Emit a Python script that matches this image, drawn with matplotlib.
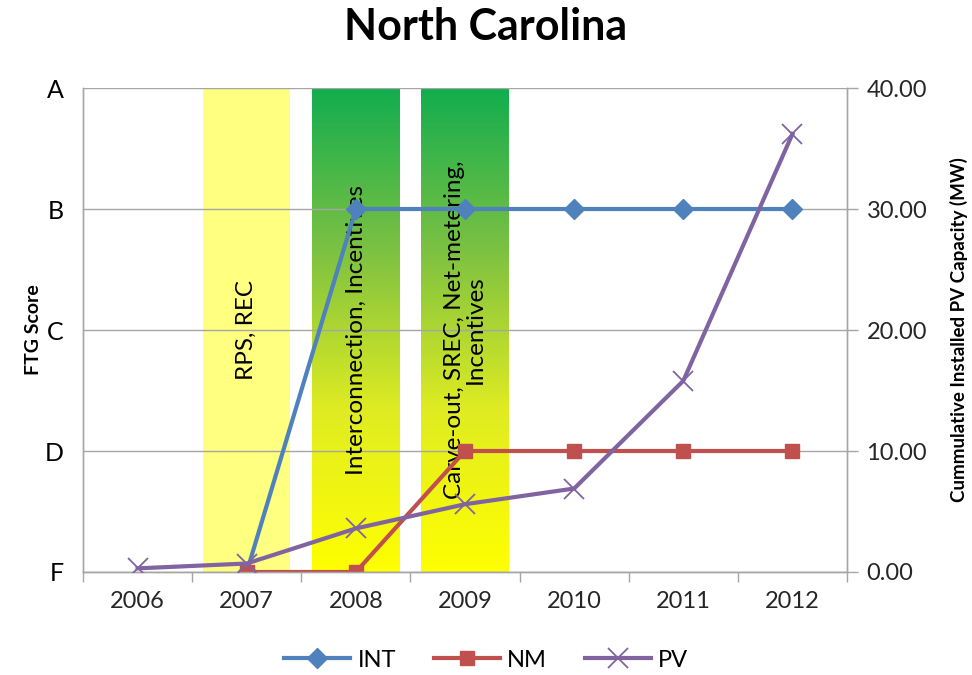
import numpy as np
import matplotlib
matplotlib.use("Agg")
import matplotlib.pyplot as plt
from matplotlib.colors import LinearSegmentedColormap

plt.rcParams["font.family"] = ["Lato", "DejaVu Sans"]

# ── Data ──────────────────────────────────────────────────────────────
years = ["2006", "2007", "2008", "2009", "2010", "2011", "2012"]
grade_labels = ["F", "D", "C", "B", "A"]
int_years = ["2007", "2008", "2009", "2010", "2011", "2012"]
int_scores = [0, 3, 3, 3, 3, 3]
nm_years = ["2007", "2008", "2009", "2010", "2011", "2012"]
nm_scores = [0, 0, 1, 1, 1, 1]
pv_mw = [0.3, 0.7, 3.6, 5.6, 6.9, 15.8, 36.2]

band_years = ["2007", "2008", "2009"]
band_labels = ["RPS, REC", "Interconnection, Incentives",
               "Carve-out, SREC, Net-metering,\nIncentives"]
band_styles = ["flat", "gradient", "gradient"]

C_INT = "#4f81bd"
C_NM = "#c0504d"
C_PV = "#8064a2"
GRID = "#a6a6a6"

fig = plt.figure(figsize=(9.72, 6.75), dpi=100)
ax = fig.add_axes([0.0854, 0.1526, 0.786, 0.717])
ax2 = ax.twinx()

x = np.arange(len(years))
pos = {y: i for i, y in enumerate(years)}

ax.set_xlim(-0.5, len(years) - 0.5)
ax.set_ylim(0, 4)
ax2.set_ylim(0, 40)

# ── Policy bands ──────────────────────────────────────────────────────
grad = LinearSegmentedColormap.from_list("gy", ["#ffff00", "#e0ec22", "#7cc142", "#12ad4f"])
for yr, lab, style in zip(band_years, band_labels, band_styles):
    i = pos[yr]
    if style == "flat":
        ax.axvspan(i - 0.4, i + 0.4, color="#ffff80", zorder=0, lw=0)
    else:
        ax.imshow(np.linspace(0, 1, 256).reshape(-1, 1), cmap=grad, origin="lower",
                  extent=(i - 0.4, i + 0.4, 0, 4), aspect="auto", zorder=0)
    ax.text(i, 2.0, lab, rotation=90, ha="center", va="center",
            fontsize=17.5, color="black", zorder=1.8, linespacing=1.0)

# ── Lines ─────────────────────────────────────────────────────────────
ax.plot([pos[y] for y in int_years], int_scores, color=C_INT, lw=3,
        marker="D", markersize=10, zorder=3, label="INT")
ax.plot([pos[y] for y in nm_years], nm_scores, color=C_NM, lw=3,
        marker="s", markersize=10, zorder=3, label="NM")
ax2.plot(x, pv_mw, color=C_PV, lw=3, marker="x", markersize=14,
         markeredgewidth=1.3, zorder=3, label="PV")

# ── Axes styling ──────────────────────────────────────────────────────
ax.set_yticks(range(5))
ax.set_yticklabels(grade_labels, fontsize=18)
ax.tick_params(axis="y", length=0, pad=14)
ax.yaxis.grid(True, color=GRID, lw=1)
ax.set_ylabel("FTG Score", fontsize=14, fontweight="bold", labelpad=2)

ax.set_xticks(x)
ax.set_xticklabels(years, fontsize=17, color="#262626")
ax.set_xticks(np.arange(-0.5, len(years) + 0.5, 1), minor=True)
ax.tick_params(axis="x", which="major", length=0, pad=14)
ax.tick_params(axis="x", which="minor", length=7, color=GRID, width=1)

ax2.set_yticks(np.arange(0, 41, 10))
ax2.set_yticklabels([f"{v:.2f}" for v in np.arange(0, 41, 10)], fontsize=17, color="#262626")
ax2.tick_params(axis="y", length=8, color=GRID, width=1, pad=6)
ax2.set_ylabel("Cummulative Installed PV Capacity (MW)", fontsize=13.5,
               fontweight="bold", labelpad=16)

for a in (ax, ax2):
    for side, sp in a.spines.items():
        sp.set_color(GRID)
        sp.set_linewidth(1)
    a.spines["top"].set_visible(False)

fig.suptitle("North Carolina", fontsize=31, fontweight="bold", y=0.99)

handles = ax.get_lines()[:2] + ax2.get_lines()[:1]
fig.legend(handles, [h.get_label() for h in handles], loc="lower center",
           ncol=3, frameon=False, fontsize=17, bbox_to_anchor=(0.5, -0.025),
           handlelength=2.8, columnspacing=1.6, handletextpad=0.3)

fig.savefig("out.png", dpi=100)
